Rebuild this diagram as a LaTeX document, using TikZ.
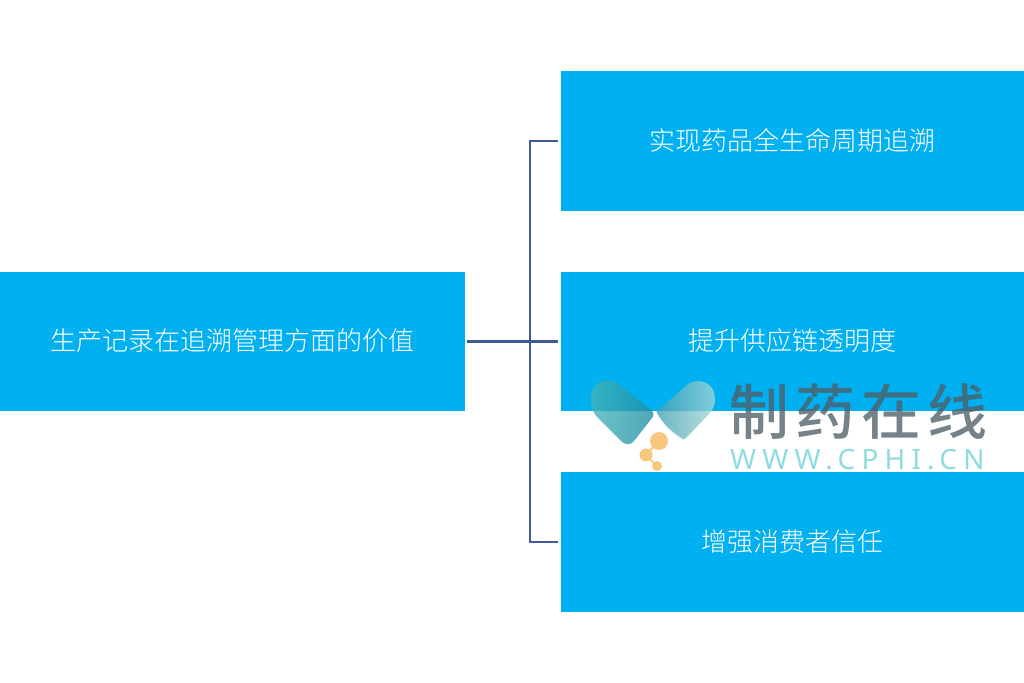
\documentclass[tikz,border=0pt]{standalone}
\usepackage{fontspec}
\setmainfont{Noto Sans CJK SC Medium}[Scale=1,LetterSpace=10]
\newfontfamily\cjk{Noto Sans CJK SC Light}[Scale=1]
\newfontfamily\latinwm{Noto Sans}[LetterSpace=22]
\usetikzlibrary{calc}
\definecolor{boxblue}{HTML}{00B0F0}
\definecolor{linkblue}{HTML}{3F5A96}
\definecolor{wmgray}{HTML}{4F5F68}
\definecolor{wmteal}{HTML}{8FDCE0}
\definecolor{pilla}{HTML}{45B8B8}
\definecolor{pillb}{HTML}{1F8CA6}
\definecolor{pillc}{HTML}{A9DAD8}
\definecolor{ball}{HTML}{F8C77E}
\tikzset{
  bluebox/.style={fill=boxblue,draw=none,inner sep=0pt,text=white,align=center,
    font=\cjk\fontsize{26}{30}\selectfont,anchor=north west,text depth=4pt},
  link/.style={draw=linkblue,line width=2.5pt},
  wmtext/.style={inner sep=0pt,anchor=west},
}
\begin{document}
\begin{tikzpicture}[x=1pt,y=-1pt]
\useasboundingbox (0,0) rectangle (1024,682);
\fill[white] (0,0) rectangle (1024,682);
\node[bluebox,minimum width=465pt,minimum height=139pt] (root) at (0,272) {生产记录在追溯管理方面的价值};
\node[bluebox,minimum width=463pt,minimum height=140pt] (top) at (561,71) {实现药品全生命周期追溯};
\node[bluebox,minimum width=463pt,minimum height=139pt] (mid) at (561,272) {提升供应链透明度};
\node[bluebox,minimum width=463pt,minimum height=140pt] (bot) at (561,472) {增强消费者信任};
\coordinate (junction) at (530,341);
\draw[link,shorten <=2pt,shorten >=3pt] (root.east) -- (mid.west);
\draw[link,shorten >=3pt] (junction) |- (top.west);
\draw[link,shorten >=3pt] (junction) |- (bot.west);
% watermark
\begin{scope}[opacity=0.78]
\shade[left color=pilla,right color=pillb]
  (600,382) .. controls (604,380) and (612,380) .. (617,383)
  -- (651,410) .. controls (654,412) and (654,415) .. (652,418)
  -- (634,441) .. controls (631,445) and (626,445) .. (622,442)
  -- (597,417) .. controls (587,405) and (589,388) .. (600,382) -- cycle;
\shade[left color=pillb!75!pillc,right color=pillc]
  (656,412) -- (688,384) .. controls (696,379) and (708,380) .. (713,390)
  .. controls (717,399) and (715,407) .. (709,414)
  -- (686,438) .. controls (684,440) and (682,440) .. (680,438)
  .. controls (670,432) and (661,422) .. (656,412) -- cycle;
\end{scope}
\draw[white,line width=1pt,opacity=0.8] (656,412) .. controls (661,422) and (670,432) .. (682,439);
\draw[ball!85!white,line width=2pt] (659,441) -- (646,455) -- (657,466);
\fill[ball] (659,441) circle (9);
\fill[ball] (646,455) circle (6.5);
\fill[ball] (657,466) circle (5);
\node[wmtext,text=wmgray,opacity=0.78,font=\fontsize{60}{64}\selectfont] (wmcn) at (729,412) {制药在线};
\node[wmtext,text=wmteal,font=\latinwm\fontsize{28}{32}\selectfont] (wmen) at (730,460) {WWW.CPHI.CN};
\end{tikzpicture}
\end{document}
